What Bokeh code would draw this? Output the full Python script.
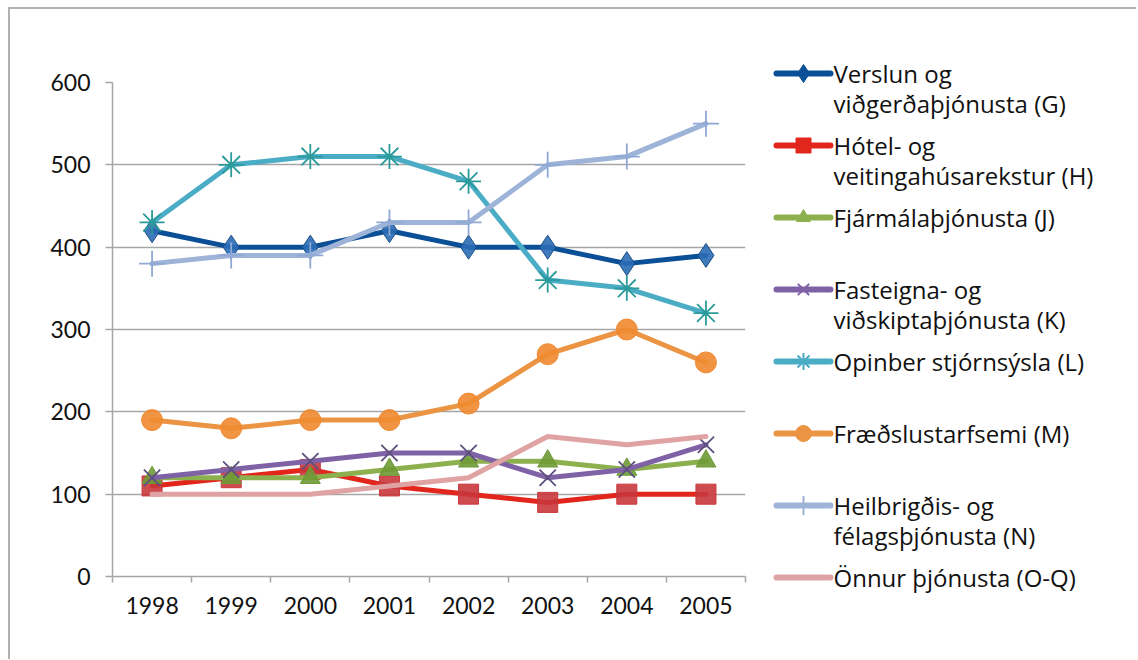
from bokeh.plotting import figure
from bokeh.models import Range1d, FixedTicker, ColumnDataSource
from bokeh.layouts import row
from bokeh.embed import file_html
from bokeh.resources import INLINE
from bokeh.core.properties import value

# ---------------- data ----------------
years = [1998, 1999, 2000, 2001, 2002, 2003, 2004, 2005]
verslun_G = [420, 400, 400, 420, 400, 400, 380, 390]
hotel_H = [110, 120, 130, 110, 100, 90, 100, 100]
fjarmal_J = [120, 120, 120, 130, 140, 140, 130, 140]
fasteigna_K = [120, 130, 140, 150, 150, 120, 130, 160]
opinber_L = [430, 500, 510, 510, 480, 360, 350, 320]
fraedsla_M = [190, 180, 190, 190, 210, 270, 300, 260]
heilbr_N = [380, 390, 390, 430, 430, 500, 510, 550]
onnur_OQ = [100, 100, 100, 110, 120, 170, 160, 170]
y_ticks = [0, 100, 200, 300, 400, 500, 600]

series_labels = [
    "Verslun og\nviðgerðaþjónusta (G)",
    "Hótel- og\nveitingahúsarekstur (H)",
    "Fjármálaþjónusta (J)",
    "Fasteigna- og\nviðskiptaþjónusta (K)",
    "Opinber stjórnsýsla (L)",
    "Fræðslustarfsemi (M)",
    "Heilbrigðis- og\nfélagsþjónusta (N)",
    "Önnur þjónusta (O-Q)",
]
series_values = [verslun_G, hotel_H, fjarmal_J, fasteigna_K,
                 opinber_L, fraedsla_M, heilbr_N, onnur_OQ]

# ---------------- styles ----------------
line_colors = ["#0B4F96", "#E2261C", "#8DB04F", "#7F62A5",
               "#4BACC6", "#EB9444", "#9DB3D8", "#E0A3A3"]
marker_fill = ["#2A6BB5", "#C9373D", "#6E9A35", "#6A5A8A",
               "#2A9A9A", "#F08A30", "#8FA8D4", None]
marker_line = ["#1B4F86", "#C9373D", "#6E9A35", "#5E4F7E",
               "#2A9A9A", "#F08A30", "#8FA8D4", None]
legend_marker_fill = ["#0B4F96", "#E2261C", "#8DB04F", "#7F62A5",
                      "#4BACC6", "#EB9444", "#9DB3D8", None]
markers = ["diamond", "square", "triangle", "x", "asterisk", "circle", "cross", None]
marker_sizes = [24, 20, 20, 23, 25, 21, 26, 0]
legend_sizes = [18, 15, 14, 16, 17, 16, 19, 0]

AXIS_FONT = "Lato"
LEGEND_FONT = "Open Sans"
GRID = "#A6A6A6"
FIG_H = 650

# ---------------- main plot ----------------
p = figure(width=750, height=FIG_H,
           x_range=Range1d(years[0] - 0.5, years[-1] + 0.5),
           y_range=Range1d(y_ticks[0], y_ticks[-1]),
           toolbar_location=None, output_backend="svg",
           min_border_left=102, min_border_top=73,
           min_border_bottom=83, min_border_right=15)
p.frame_align = False
p.outline_line_color = None
p.background_fill_color = "white"
p.border_fill_color = "white"

p.xgrid.grid_line_color = None
p.ygrid.grid_line_color = GRID
p.ygrid.grid_line_width = 1.5
p.ygrid.ticker = FixedTicker(ticks=y_ticks)

p.yaxis.ticker = FixedTicker(ticks=y_ticks)
p.yaxis.axis_line_color = GRID
p.yaxis.axis_line_width = 1.5
p.yaxis.major_tick_line_color = GRID
p.yaxis.major_tick_line_width = 1.5
p.yaxis.major_tick_in = 0
p.yaxis.major_tick_out = 7
p.yaxis.minor_tick_line_color = None
p.yaxis.major_label_standoff = 15

p.xaxis.ticker = FixedTicker(ticks=years,
                             minor_ticks=[y - 0.5 for y in years] + [years[-1] + 0.5])
p.xaxis.major_label_overrides = {y: str(y) for y in years}
p.xaxis.axis_line_color = GRID
p.xaxis.axis_line_width = 1.5
p.xaxis.major_tick_line_color = None
p.xaxis.minor_tick_line_color = GRID
p.xaxis.minor_tick_line_width = 1.5
p.xaxis.minor_tick_in = 0
p.xaxis.minor_tick_out = 6
p.xaxis.major_label_standoff = 14

for ax in (p.xaxis, p.yaxis):
    ax.major_label_text_font = AXIS_FONT
    ax.major_label_text_font_size = "23px"
    ax.major_label_text_color = "#111111"

for i, vals in enumerate(series_values):
    src = ColumnDataSource(dict(x=years, y=vals))
    p.line("x", "y", source=src, line_color=line_colors[i], line_width=5,
           line_join="round", line_cap="round")
    if markers[i] is not None:
        p.scatter("x", "y", source=src, marker=markers[i], size=marker_sizes[i],
                  fill_color=marker_fill[i], line_color=marker_line[i],
                  line_width=1.8 if markers[i] in ("x", "asterisk", "cross") else 1,
                  fill_alpha=0.9)

# ---------------- legend panel ----------------
LW = 376
lg = figure(width=LW, height=FIG_H, x_range=Range1d(0, LW), y_range=Range1d(FIG_H, 0),
            toolbar_location=None, output_backend="svg",
            x_axis_type=None, y_axis_type=None, min_border=0,
            min_border_left=0, min_border_right=0, min_border_top=0, min_border_bottom=0)
lg.frame_align = False
lg.outline_line_color = None
lg.grid.visible = False
lg.background_fill_color = "white"
lg.border_fill_color = "white"

item_y0, item_step = 64, 72
seg_x0, seg_x1, mark_x, text_x, line_gap = 16, 70, 43, 73, 30
for i, lab in enumerate(series_labels):
    yy = item_y0 + item_step * i
    lg.segment(x0=[seg_x0], y0=[yy], x1=[seg_x1], y1=[yy],
               line_color=line_colors[i], line_width=6, line_cap="round")
    if markers[i] is not None:
        lg.scatter(x=[mark_x], y=[yy], marker=markers[i], size=legend_sizes[i],
                   fill_color=legend_marker_fill[i], line_color=legend_marker_fill[i],
                   line_width=2 if markers[i] in ("x", "asterisk", "cross") else 1)
    parts = lab.split("\n")
    lg.text(x=[text_x] * len(parts), y=[yy + line_gap * j for j in range(len(parts))],
            text=parts, text_font=value(LEGEND_FONT), text_font_size="24px",
            text_baseline="middle", text_align="left", text_color="#111111")

layout = row(p, lg, margin=(7, 0, 0, 8),
             styles={"border-top": "2px solid #B0B0B0",
                     "border-left": "2px solid #B0B0B0"})

open("out.html", "w").write(file_html(layout, INLINE))
